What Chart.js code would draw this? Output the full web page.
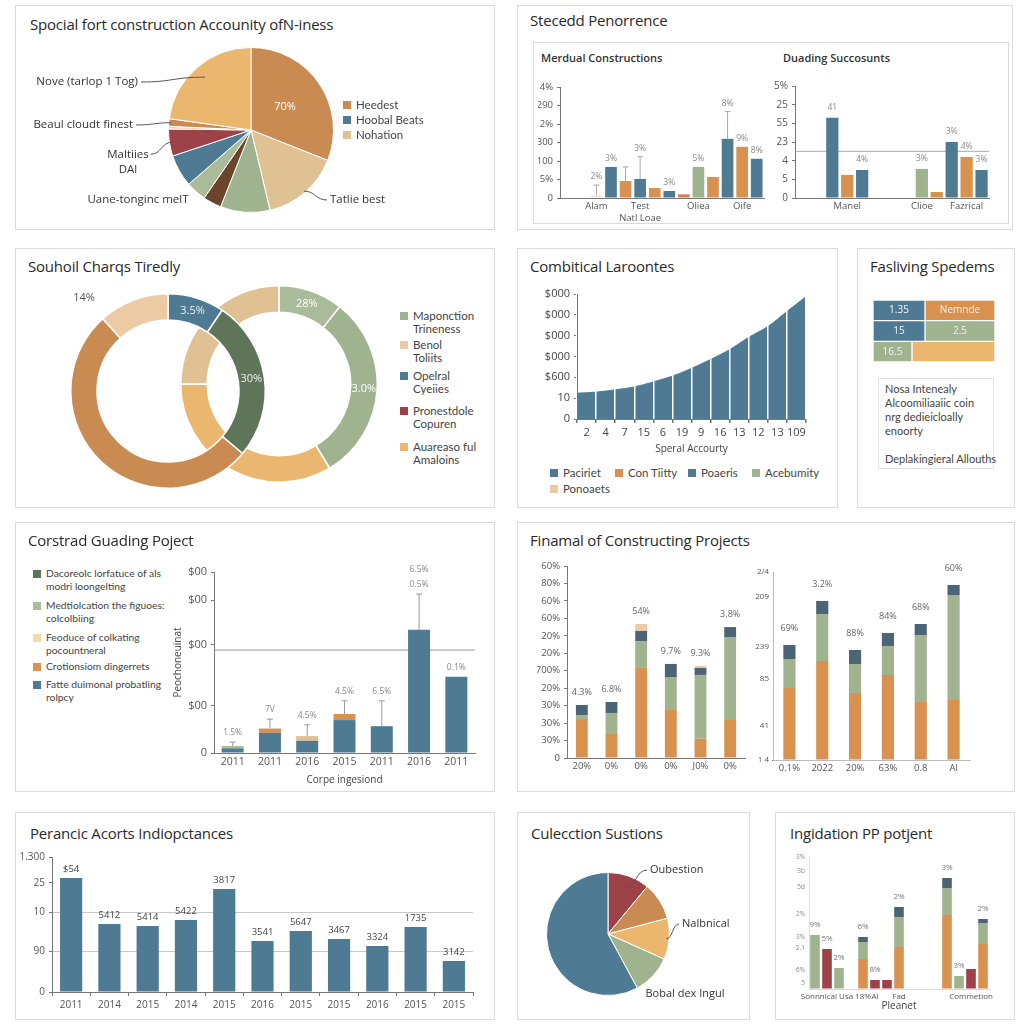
<!DOCTYPE html>
<html>
<head>
<meta charset="utf-8">
<script src="https://cdn.jsdelivr.net/npm/chart.js@4.4.0/dist/chart.umd.min.js"></script>
<style>
  body { margin: 0; background: #fff; }
  #page { position: relative; width: 1024px; height: 1024px; overflow: hidden; background: #fff;
          font-family: 'Open Sans', sans-serif; color: #333; }
  .panel { position: absolute; border: 1px solid #dadada; box-sizing: border-box; background: #fff; }
  .title { position: absolute; font-size: 15px; line-height: 18px; color: #2a2a2a; white-space: nowrap; letter-spacing: -0.2px; }
  .sub { position: absolute; font-size: 11px; line-height: 14px; font-weight: 600; color: #333; white-space: nowrap; }
  .lg { position: absolute; font-family: Lato, sans-serif; font-size: 11.5px; line-height: 13px; color: #444; white-space: nowrap; }
  .lg.small { font-size: 10.3px; }
  .lg i { position: absolute; left: 0; top: 3px; width: 8px; height: 8px; }
  .lg span { position: absolute; left: 13px; top: 0; }
  .note { position: absolute; font-family: Lato, sans-serif; font-size: 11px; line-height: 14px; color: #444; border: 1px solid #e2e2e2;
          box-sizing: border-box; padding: 3px 6px; white-space: nowrap; }
  canvas { position: absolute; }
</style>
</head>
<body>
<div id="page"></div>
<script>
// ---------- data ----------
// panel 1: pie
const mixNames = ['Heedest', 'Tatlie best', 'Sage', 'Dark', 'Uane-tonginc melT', 'Hoobal Beats', 'Maltiies\nDAl', 'Thin', 'Beaul cloudt finest', 'Nove (tarlop 1 Tog)'];
const mixShares = [31, 15.3, 9.7, 3.6, 4, 6.3, 5.3, 0.5, 1.5, 22.8];
const mixLegend = ['Heedest', 'Hoobal Beats', 'Nohation'];

// panel 2: two bar charts
const mcCategories = ['', '', 'Alam', '', '', ['Test', 'Natl Loae'], '', '', '', 'Oliea', '', '', 'Oife', ''];
const mcValues = [null, null, 0.15, 1.68, 0.92, 1.03, 0.54, 0.38, 0.2, 1.68, 1.14, 3.2, 2.77, 2.12];
const mcTopText = ['', '', '2%', '3%', '', '3%', '', '3%', '', '5%', '', '8%', '9%', '8%'];
const mcErrors = [null, null, 0.7, null, 1.68, 2.23, null, null, null, null, null, 4.67, null, null];
const mcTickLabels = ['0', '5%', '100', '300', '2%', '290', '4%'];

const dsCategories = ['', '', '', 'Manel', '', '', '', '', 'Clioe', '', '', 'Fazrical', ''];
const dsValues = [null, null, 4.3, 1.24, 1.5, null, null, null, 1.56, 0.32, 3.0, 2.2, 1.5];
const dsTopText = ['', '', '41', '', '4%', '', '', '', '3%', '', '3%', '4%', '3%'];
const dsTickLabels = ['0', '5', '4', '23', '55', '25', '5%'];
const dsRefValue = 2.5;

// panel 3: two rings
const leftRingShares = [9.4, 26.7, 52.2, 11.7];
const leftRingText = ['3.5%', '30%', '', '14%'];
const rightRingShares = [10.6, 30.8, 33.6, 25];
const rightRingText = ['28%', '3.0%', '', ''];
const ringLegend = ['Maponction\nTrineness', 'Benol\nToliits', 'Opelral\nCyeiies', 'Pronestdole\nCopuren', 'Auareaso ful\nAmaloins'];

// panel 4: area
const areaCurve = [1.24, 1.29, 1.40, 1.54, 1.78, 2.06, 2.43, 2.86, 3.33, 3.92, 4.44, 5.16, 5.87];
const areaTicks = ['2', '4', '7', '15', '6', '19', '9', '16', '13', '12', '13', '109'];
const areaYLabels = ['0', '10', '$600', '$000', '$000', '$000', '$000'];
const areaLegend = ['Paciriet', 'Con Tiitty', 'Poaeris', 'Acebumity', 'Ponoaets'];

// panel 5: table
const specRows = ['r1', 'r2', 'r3'];
const specFirst = [52, 52, 39];
const specSecond = [70, 70, 83];
const specFirstText = ['1.35', '15', '16.5'];
const specSecondText = ['Nemnde', '2.5', ''];

// panel 6: stacked bars with error lines
const cgYears = ['2011', '2011', '2016', '2015', '2011', '2016', '2011'];
const cgBlue = [0.10, 0.43, 0.26, 0.70, 0.57, 2.62, 1.62];
const cgGreen = [0.05, 0, 0, 0, 0, 0, 0];
const cgOrange = [0, 0.09, 0, 0.13, 0, 0, 0];
const cgTan = [0, 0, 0.10, 0, 0, 0, 0];
const cgErrors = [0.23, 0.72, 0.6, 1.11, 1.11, 3.38, null];
const cgTopText = ['1.5%', '7V', '4.5%', '4.5%', '6.5%', ['6.5%', '0.5%'], '0.1%'];
const cgTickValues = [0, 1, 2.3, 3.25, 3.85];
const cgTickLabels = ['0', '$00', '$00', '$00', '$00'];
const cgRefValue = 2.19;
const cgLegend = ['Dacoreolc lorfatuce of als\nmodri loongelting', 'Medtiolcation the figuoes:\ncolcolbiing',
                  'Feoduce of colkating\npocountneral', 'Crotionsiom dingerrets', 'Fatte duimonal probatling\nrolpcy'];

// panel 7: two stacked bar charts
const fcLabelsA = ['20%', '0%', '0%', '0%', 'J0%', '0%'];
const fcOrangeA = [2.23, 1.38, 5.16, 2.75, 1.1, 2.23];
const fcGreenA = [0.23, 1.2, 1.54, 1.89, 3.66, 4.7];
const fcDarkA = [0.58, 0.63, 0.58, 0.75, 0.4, 0.57];
const fcPeachA = [0, 0, 0.4, 0, 0.11, 0];
const fcTopA = ['4.3%', '6.8%', '54%', '9.7%', '9.3%', '3.8%'];
const fcTickLabelsA = ['0', '30%', '30%', '30%', '20%', '700%', '20%', '20%', '60%', '60%', '80%', '60%'];

const fcLabelsB = ['0.1%', '2022', '20%', '63%', '0.8', 'Al'];
const fcOrangeB = [72, 99, 67, 85, 58, 60];
const fcGreenB = [29, 47, 29, 29, 67, 105];
const fcDarkB = [14, 13, 14, 13, 11, 10];
const fcTopB = ['69%', '3.2%', '88%', '84%', '68%', '60%'];
const fcTickValuesB = [0, 34, 81, 113, 163, 188];
const fcTickLabelsB = ['1 4', '41', '85', '239', '209', '2/4'];

// panel 8: bars
const paYears = ['2011', '2014', '2015', '2014', '2015', '2016', '2015', '2015', '2016', '2015', '2015'];
const paValues = [114, 68, 66, 72, 103, 51, 61, 53, 46, 65, 31];
const paTopText = ['$54', '5412', '5414', '5422', '3817', '3541', '5647', '3467', '3324', '1735', '3142'];
const paTickValues = [0, 41, 80, 109, 135];
const paTickLabels = ['0', '90', '10', '25', '1.300'];

// panel 9: pie
const csNames = ['Oubestion', 'Brown', 'Nalbnical', 'Bobal dex Ingul', 'Blue'];
const csShares = [11, 9.9, 10.8, 10.4, 57.9];

// panel 10: mixed bars
const ipCategories = ['', 'Sonnnical Usa', '', '', '18%', 'Al', '', 'Fad', '', '', '', '', '', 'Commetion', ''];
const ipBase = [54, 40, 21, null, 30, 9, 9, 42, null, null, null, 74, 13, 20, 45];
const ipMid = [0, 0, 0, null, 17, 0, 0, 30, null, null, null, 27, 0, 0, 21];
const ipTop = [0, 0, 0, null, 5, 0, 0, 10, null, null, null, 10, 0, 0, 4];
const ipTopText = ['9%', '5%', '2%', '', '6%', '8%', '', '2%', '', '', '', '3%', '3%', '', '2%'];
const ipTickValues = [0, 6, 19, 41, 52, 75, 102, 118, 132];
const ipTickLabels = ['', '5', '6%', '2.1', '3%', '2%', '5d', '3b', '3%'];

// ---------- colours ----------
const C = {
  blue: '#4e7b93', brown: '#c98b52', orange: '#d8914f', rust: '#d47f52', tan: '#dfc194',
  yellow: '#ebb76e', sage: '#9fb38f', sage2: '#a9bb98', dkgreen: '#5f7559', red: '#9e424a',
  dkbrown: '#6b4429', peach: '#eccba4', slate: '#4b6576', faint: '#efe7dc', ltyellow: '#f2dcae'
};
const mixColors = [C.brown, C.tan, C.sage, C.dkbrown, C.sage2, C.blue, C.red, C.peach, C.brown, C.yellow];
const mcColors = ['', '', C.faint, C.blue, C.orange, C.blue, C.orange, C.blue, C.rust, C.sage, C.orange, C.blue, C.orange, C.blue];
const dsColors = ['', '', C.blue, C.orange, C.blue, '', '', '', C.sage, C.orange, C.blue, C.orange, C.blue];
const leftRingColors = [C.blue, C.dkgreen, C.brown, C.peach];
const rightRingColors = [C.sage2, C.sage, C.yellow, C.tan];
const csColors = [C.red, C.brown, C.yellow, C.sage, C.blue];
const ipBaseColors = [C.sage, C.red, C.sage, '', C.orange, C.red, C.red, C.orange, '', '', '', C.orange, C.sage, C.red, C.orange];

// ---------- plugins ----------
const FONT = "'Open Sans', sans-serif";

const elLabels = {
  id: 'elLabels',
  afterDatasetsDraw(chart, args, o) {
    if (!o.labels) return;
    const ctx = chart.ctx;
    ctx.save();
    ctx.font = `${o.size || 11}px ${FONT}`;
    ctx.textAlign = 'center';
    ctx.textBaseline = 'middle';
    o.labels.forEach((arr, d) => arr.forEach((t, i) => {
      if (!t) return;
      const e = chart.getDatasetMeta(d).data[i];
      let p = e.getCenterPoint();
      const f = o.radius && o.radius[d] && o.radius[d][i];
      if (f) {
        // [factor of outer radius, angle from 12 o'clock in degrees]
        const ang = f[1] != null ? (f[1] - 90) * Math.PI / 180 : (e.startAngle + e.endAngle) / 2;
        p = { x: e.x + Math.cos(ang) * e.outerRadius * f[0], y: e.y + Math.sin(ang) * e.outerRadius * f[0] };
      }
      ctx.fillStyle = (o.colors && o.colors[d] && o.colors[d][i]) || o.color || '#fff';
      ctx.fillText(t, p.x, p.y);
    }));
    ctx.restore();
  }
};

const pieCallouts = {
  id: 'pieCallouts',
  afterDatasetsDraw(chart, args, o) {
    if (!o.items) return;
    const ctx = chart.ctx, arcs = chart.getDatasetMeta(0).data, names = chart.data.labels;
    const size = o.size || 11, lh = size + 4;
    ctx.save();
    ctx.font = `${size}px ${FONT}`;
    ctx.fillStyle = '#333';
    ctx.strokeStyle = '#555';
    ctx.lineWidth = 1;
    ctx.textBaseline = 'middle';
    o.items.forEach(it => {
      const a = arcs[it.index], mid = (a.startAngle + a.endAngle) / 2;
      const lines = String(names[it.index]).split('\n');
      const tx = a.x + it.dx, ty = a.y + it.dy - (lines.length - 1) * lh / 2;
      ctx.textAlign = it.align;
      lines.forEach((t, k) => ctx.fillText(t, tx, ty + k * lh));
      if (it.line) {
        const w = Math.max(...lines.map(t => ctx.measureText(t).width));
        const ex = a.x + Math.cos(mid) * a.outerRadius * it.r, ey = a.y + Math.sin(mid) * a.outerRadius * it.r;
        const sx = it.align === 'left' ? tx - 3 : it.align === 'right' ? tx + 3 : tx + w / 2 + 2;
        const mx = (sx + ex) / 2;
        ctx.beginPath();
        ctx.moveTo(sx, ty);
        ctx.bezierCurveTo(mx, ty, mx, ey, ex, ey);
        ctx.stroke();
      }
    });
    ctx.restore();
  }
};

function barTop(chart, i) {
  let top = Infinity, x = null;
  chart.data.datasets.forEach((ds, d) => {
    const e = chart.getDatasetMeta(d).data[i];
    if (!e || !ds.data[i]) return;
    x = e.x;
    top = Math.min(top, e.y);
  });
  return { x, top };
}

const errorBars = {
  id: 'errorBars',
  afterDatasetsDraw(chart, args, o) {
    if (!o.tops) return;
    const ctx = chart.ctx;
    ctx.save();
    ctx.strokeStyle = o.color || '#999';
    ctx.lineWidth = 1;
    o.tops.forEach((v, i) => {
      if (v == null) return;
      const b = barTop(chart, i);
      if (b.x === null) return;
      const y = chart.scales.y.getPixelForValue(v);
      ctx.beginPath();
      ctx.moveTo(b.x, b.top);
      ctx.lineTo(b.x, y);
      ctx.moveTo(b.x - 3, y);
      ctx.lineTo(b.x + 3, y);
      ctx.stroke();
    });
    ctx.restore();
  }
};

const topLabels = {
  id: 'topLabels',
  afterDatasetsDraw(chart, args, o) {
    if (!o.labels) return;
    const ctx = chart.ctx, size = o.size || 9;
    ctx.save();
    ctx.font = `${size}px ${FONT}`;
    ctx.fillStyle = o.color || '#777';
    ctx.textAlign = 'center';
    ctx.textBaseline = 'bottom';
    o.labels.forEach((txt, i) => {
      if (!txt) return;
      const b = barTop(chart, i);
      if (b.x === null) return;
      let top = b.top;
      if (o.errors && o.errors[i] != null) top = Math.min(top, chart.scales.y.getPixelForValue(o.errors[i]));
      const lines = Array.isArray(txt) ? txt : [txt];
      lines.slice().reverse().forEach((t, k) => ctx.fillText(t, b.x, top - (o.gap || 4) - k * (size + 7)));
    });
    ctx.restore();
  }
};

const refLine = {
  id: 'refLine',
  beforeDatasetsDraw(chart, args, o) {
    if (o.value == null) return;
    const ctx = chart.ctx, y = chart.scales.y.getPixelForValue(o.value);
    ctx.save();
    ctx.strokeStyle = o.color || '#999';
    ctx.lineWidth = 1;
    ctx.beginPath();
    ctx.moveTo(chart.chartArea.left, y);
    ctx.lineTo(chart.chartArea.right, y);
    ctx.stroke();
    ctx.restore();
  }
};

Chart.register(elLabels, pieCallouts, errorBars, topLabels, refLine);
Chart.defaults.font.family = FONT;
Chart.defaults.font.size = 10;
Chart.defaults.color = '#555';
Chart.defaults.animation = false;
Chart.defaults.plugins.legend.display = false;
Chart.defaults.plugins.tooltip.enabled = false;

// ---------- page helpers ----------
const page = document.getElementById('page');

function addDiv(cls, x, y, w, h, html) {
  const d = document.createElement('div');
  d.className = cls;
  d.style.left = x + 'px';
  d.style.top = y + 'px';
  if (w) d.style.width = w + 'px';
  if (h) d.style.height = h + 'px';
  if (html) d.innerHTML = html;
  page.appendChild(d);
  return d;
}

function panel(x, y, w, h) { addDiv('panel', x, y, w, h); }
function title(x, cy, text) { addDiv('title', x, cy - 9, 0, 0, text); }
function sub(x, cy, text) { addDiv('sub', x, cy - 7, 0, 0, text); }

function legendItem(x, y, color, text, cls) {
  addDiv('lg' + (cls ? ' ' + cls : ''), x, y, 0, 0, `<i style="background:${color}"></i><span>${text.replace(/\n/g, '<br>')}</span>`);
}

function makeCanvas(x, y, w, h) {
  const c = document.createElement('canvas');
  c.width = w;
  c.height = h;
  c.style.left = x + 'px';
  c.style.top = y + 'px';
  page.appendChild(c);
  return c;
}

// area = [left, top, right, bottom] of the plotting area in page pixels
function box(area, yW, xH, pad) {
  const p = Object.assign({ left: 0, top: 12, right: 8, bottom: 2 }, pad || {});
  const x = area[0] - yW - p.left, y = area[1] - p.top;
  const w = area[2] + p.right - x, h = area[3] + xH + p.bottom - y;
  return { canvas: makeCanvas(x, y, w, h), padding: p };
}

function yAxis(values, labels, width, o = {}) {
  return {
    min: values[0], max: values[values.length - 1], stacked: !!o.stacked,
    afterBuildTicks: s => { s.ticks = values.map(v => ({ value: v })); },
    afterFit: s => { s.width = width; },
    ticks: { autoSkip: false, callback: (v, i) => labels[i], font: { size: o.size || 10 }, color: o.color || '#555', padding: o.tickPad ?? 4 },
    grid: { drawOnChartArea: !!o.gridColor, color: o.gridColor || 'transparent', tickLength: o.tickLen ?? 3, tickColor: o.tickColor || '#777' },
    border: { display: o.border !== false, color: o.borderColor || '#777', z: o.borderZ || 0 },
    title: o.title ? { display: true, text: o.title, font: { size: 10 }, color: '#444', padding: 2 } : { display: false }
  };
}

function xAxis(height, o = {}) {
  return {
    stacked: !!o.stacked,
    afterFit: s => { s.height = height; },
    ticks: { autoSkip: false, maxRotation: 0, minRotation: 0, font: { size: o.size || 10, family: o.family || FONT },
      color: o.color || '#555', padding: o.tickPad ?? 3 },
    grid: { drawOnChartArea: false, tickLength: o.tickLen ?? 3, tickColor: o.tickColor || '#777', offset: true },
    border: { display: o.border !== false, color: o.borderColor || '#777' },
    title: o.title ? { display: true, text: o.title, font: { size: 10 }, color: '#444', padding: 1 } : { display: false }
  };
}

function barChart(b, labels, datasets, scales, plugins, barPct) {
  return new Chart(b.canvas, {
    type: 'bar',
    data: { labels, datasets: datasets.map(d => Object.assign({ barPercentage: barPct, categoryPercentage: 1, borderWidth: 0 }, d)) },
    options: { responsive: false, layout: { padding: b.padding }, scales, plugins }
  });
}

// ---------- panels ----------
panel(15, 5, 480, 225);
panel(517, 5, 496, 225);
panel(15, 248, 480, 260);
panel(517, 248, 321, 260);
panel(857, 248, 158, 260);
panel(15, 522, 480, 270);
panel(517, 522, 498, 270);
panel(15, 812, 480, 208);
panel(517, 812, 233, 208);
panel(775, 812, 240, 208);

// panel 1
title(30, 24, 'Spocial fort construction Accounity ofN-iness');
new Chart(makeCanvas(16, 40, 478, 188), {
  type: 'pie',
  data: { labels: mixNames, datasets: [{ data: mixShares, backgroundColor: mixColors, borderColor: '#fff', borderWidth: 1 }] },
  options: {
    responsive: false,
    layout: { padding: { left: 152, top: 7, right: 160, bottom: 15 } },
    plugins: {
      elLabels: { labels: [['70%']], color: '#fff', size: 11 },
      pieCallouts: { size: 11.5, items: [
        { index: 9, align: 'right', dx: -113, dy: -48, line: true, r: 0.85 },
        { index: 8, align: 'right', dx: -118, dy: -5, line: true, r: 0.97 },
        { index: 6, align: 'center', dx: -123, dy: 32, line: true, r: 0.97 },
        { index: 4, align: 'center', dx: -113, dy: 70, line: false },
        { index: 1, align: 'left', dx: 79, dy: 70, line: true, r: 0.98 }
      ] }
    }
  }
});
[C.brown, C.blue, C.tan].forEach((c, i) => legendItem(343, 98 + i * 15, c, mixLegend[i]));

// panel 2
title(530, 20, 'Stecedd Penorrence');
addDiv('panel', 533, 42, 476, 182);
sub(541, 58, 'Merdual Constructions');
sub(783, 58, 'Duading Succosunts');
{
  const b = box([560, 87, 764, 198], 22, 28);
  barChart(b, mcCategories, [{ data: mcValues, backgroundColor: mcColors }],
    { x: xAxis(28, { size: 9.5, tickLen: 0 }), y: yAxis([0, 1, 2, 3, 4, 5, 6], mcTickLabels, 22, { size: 9.5 }) },
    { topLabels: { labels: mcTopText, errors: mcErrors, size: 8.5, color: '#888' }, errorBars: { tops: mcErrors, color: '#aaa' } }, 0.8);
}
{
  const b = box([795, 86, 989, 198], 22, 28);
  barChart(b, dsCategories, [{ data: dsValues, backgroundColor: dsColors }],
    { x: xAxis(28, { size: 9.5, tickLen: 0 }), y: yAxis([0, 1, 2, 3, 4, 5, 6], dsTickLabels, 22, { size: 10 }) },
    { topLabels: { labels: dsTopText, size: 8.5, color: '#888', gap: 6 }, refLine: { value: dsRefValue, color: '#aaa' } }, 0.82);
}

// panel 3
title(28, 266, 'Souhoil Charqs Tiredly');
new Chart(makeCanvas(179, 284, 200, 200), {
  type: 'doughnut',
  data: { datasets: [{ data: rightRingShares, backgroundColor: rightRingColors, borderColor: '#fff', borderWidth: 1.5 }] },
  options: { responsive: false, cutout: '73%', layout: { padding: 1 },
    plugins: { elLabels: { labels: [rightRingText], color: '#fff', size: 11 } } }
});
new Chart(makeCanvas(38, 261, 260, 260), {
  type: 'doughnut',
  data: { datasets: [{ data: leftRingShares, backgroundColor: leftRingColors, borderColor: '#fff', borderWidth: 1.5 }] },
  options: { responsive: false, cutout: '73%', layout: { padding: 32 },
    plugins: { elLabels: { labels: [leftRingText], radius: [[0, 0, 0, [1.29, 318]]], colors: [['#eee', '#eee', '', '#555']], size: 11 } } }
});
[C.sage, C.peach, C.blue, C.red, C.yellow].forEach((c, i) =>
  legendItem(400, [309, 338, 369, 404, 440][i], c, ringLegend[i]));

// panel 4
title(530, 266, 'Combitical Laroontes');
{
  const b = box([577, 294, 806, 419], 38, 38);
  new Chart(b.canvas, {
    type: 'line',
    data: { datasets: [{ data: areaCurve.map((v, i) => ({ x: i, y: v })), fill: 'origin', backgroundColor: C.blue,
      borderColor: C.blue, borderWidth: 1, pointRadius: 0, tension: 0.35 }] },
    options: {
      responsive: false, layout: { padding: b.padding },
      scales: {
        x: { type: 'linear', min: 0, max: 12, display: false },
        xl: { type: 'category', position: 'bottom', labels: areaTicks, offset: true,
          afterFit: s => { s.height = 38; },
          ticks: { autoSkip: false, maxRotation: 0, font: { size: 11 }, color: '#444', padding: 3 },
          grid: { offset: true, color: '#fff', lineWidth: 1.5, tickColor: '#777', tickLength: 4, z: 1 },
          border: { color: '#777', z: 2 },
          title: { display: true, text: 'Speral Accourty', font: { size: 10 }, color: '#444', padding: 2 } },
        y: yAxis([0, 1, 2, 3, 4, 5, 6], areaYLabels, 38, { size: 11, color: '#444', borderZ: 2 })
      }
    }
  });
}
[[550, 466, C.blue], [615, 466, C.orange], [688, 466, C.blue], [752, 466, C.sage], [550, 482, C.peach]]
  .forEach(([x, y, c], i) => legendItem(x, y, c, areaLegend[i]));

// panel 5
title(870, 266, 'Fasliving Spedems');
new Chart(makeCanvas(873, 300, 122, 62), {
  type: 'bar',
  data: { labels: specRows, datasets: [
    { data: specFirst, backgroundColor: [C.blue, C.blue, C.sage] },
    { data: specSecond, backgroundColor: [C.orange, C.sage, C.yellow] }
  ] },
  options: {
    indexAxis: 'y', responsive: false, layout: { padding: 0 },
    datasets: { bar: { barPercentage: 1, categoryPercentage: 1, borderColor: '#fff', borderWidth: 1, borderSkipped: false } },
    scales: { x: { stacked: true, display: false, min: 0, max: 122 }, y: { stacked: true, display: false } },
    plugins: { elLabels: { labels: [specFirstText, specSecondText], color: '#f4f4f4', size: 10 } }
  }
});
addDiv('note', 878, 378, 116, 91,
  'Nosa Intenealy<br>Alcoomiliaaiic coin<br>nrg dedieicloally<br>enoorty<br><br>Deplakingieral Allouths');

// panel 6
title(28, 540, 'Corstrad Guading Poject');
[[C.dkgreen, 567], ['#a9bd9a', 599], [C.ltyellow, 631], [C.orange, 660], [C.blue, 678]]
  .forEach(([c, y], i) => legendItem(33, y, c, cgLegend[i], 'small'));
{
  const b = box([214, 572, 475, 753], 44, 34, { top: 18 });
  barChart(b, cgYears, [
    { data: cgBlue, backgroundColor: C.blue },
    { data: cgGreen, backgroundColor: '#a9bd9a' },
    { data: cgOrange, backgroundColor: C.orange },
    { data: cgTan, backgroundColor: C.tan }
  ], {
    x: xAxis(34, { stacked: true, size: 10.5, title: 'Corpe ingesiond', tickLen: 0 }),
    y: yAxis(cgTickValues, cgTickLabels, 44, { stacked: true, size: 11, title: 'Peochoneuinat' })
  }, {
    topLabels: { labels: cgTopText, errors: cgErrors, size: 8.5, color: '#888', gap: 5 },
    errorBars: { tops: cgErrors, color: '#999' },
    refLine: { value: cgRefValue, color: '#999' }
  }, 0.59);
}

// panel 7
title(530, 540, 'Finamal of Constructing Projects');
{
  const b = box([567, 566, 745, 758], 30, 20);
  barChart(b, fcLabelsA, [
    { data: fcOrangeA, backgroundColor: C.orange },
    { data: fcGreenA, backgroundColor: C.sage },
    { data: fcDarkA, backgroundColor: C.slate },
    { data: fcPeachA, backgroundColor: C.peach }
  ], {
    x: xAxis(20, { stacked: true, size: 9.5, tickLen: 0 }),
    y: yAxis([0, 1, 2, 3, 4, 5, 6, 7, 8, 9, 10, 11], fcTickLabelsA, 30, { stacked: true, size: 9.5 })
  }, { topLabels: { labels: fcTopA, size: 9, color: '#666', gap: 8 } }, 0.4);
}
{
  const b = box([773, 572, 970, 760], 20, 18);
  barChart(b, fcLabelsB, [
    { data: fcOrangeB, backgroundColor: C.orange },
    { data: fcGreenB, backgroundColor: C.sage },
    { data: fcDarkB, backgroundColor: C.slate }
  ], {
    x: xAxis(18, { stacked: true, size: 9.5, tickLen: 0, borderColor: '#bbb' }),
    y: yAxis(fcTickValuesB, fcTickLabelsB, 20, { stacked: true, size: 8, tickLen: 0, borderColor: '#bbb' })
  }, { topLabels: { labels: fcTopB, size: 9, color: '#666', gap: 12 } }, 0.37);
}

// panel 8
title(30, 833, 'Perancic Acorts Indiopctances');
{
  const b = box([52, 857, 473, 992], 36, 20, { top: 10 });
  barChart(b, paYears, [{ data: paValues, backgroundColor: C.blue }], {
    x: xAxis(20, { size: 10, tickLen: 4 }),
    y: yAxis(paTickValues, paTickLabels, 36, { size: 10,
      gridColor: c => (c.tick && (c.tick.value === 41 || c.tick.value === 80)) ? '#c8c8c8' : 'transparent' })
  }, { topLabels: { labels: paTopText, size: 9.5, color: '#444', gap: 4 } }, 0.58);
}

// panel 9
title(531, 833, 'Culecction Sustions');
new Chart(makeCanvas(518, 840, 230, 190), {
  type: 'pie',
  data: { labels: csNames, datasets: [{ data: csShares, backgroundColor: csColors, borderColor: '#fff', borderWidth: 1 }] },
  options: {
    responsive: false,
    layout: { padding: { left: 26, top: 32, right: 76, bottom: 34 } },
    plugins: { pieCallouts: { size: 11, items: [
      { index: 0, align: 'left', dx: 42, dy: -64, line: true, r: 0.8 },
      { index: 2, align: 'left', dx: 74, dy: -10, line: true, r: 0.95 },
      { index: 3, align: 'center', dx: 77, dy: 60, line: false }
    ] } }
  }
});

// panel 10
title(790, 833, 'Ingidation PP potjent');
{
  const b = box([809, 857, 989, 989], 16, 24, { top: 10 });
  barChart(b, ipCategories, [
    { data: ipBase, backgroundColor: ipBaseColors },
    { data: ipMid, backgroundColor: C.sage },
    { data: ipTop, backgroundColor: C.slate }
  ], {
    x: xAxis(24, { stacked: true, size: 8, tickLen: 0, title: 'Pleanet', borderColor: '#ddd' }),
    y: yAxis(ipTickValues, ipTickLabels, 16, { stacked: true, size: 6.5, tickLen: 0, color: '#888', borderColor: '#ddd' })
  }, { topLabels: { labels: ipTopText, size: 8, color: '#777', gap: 6 } }, 0.8);
}
</script>
</body>
</html>
